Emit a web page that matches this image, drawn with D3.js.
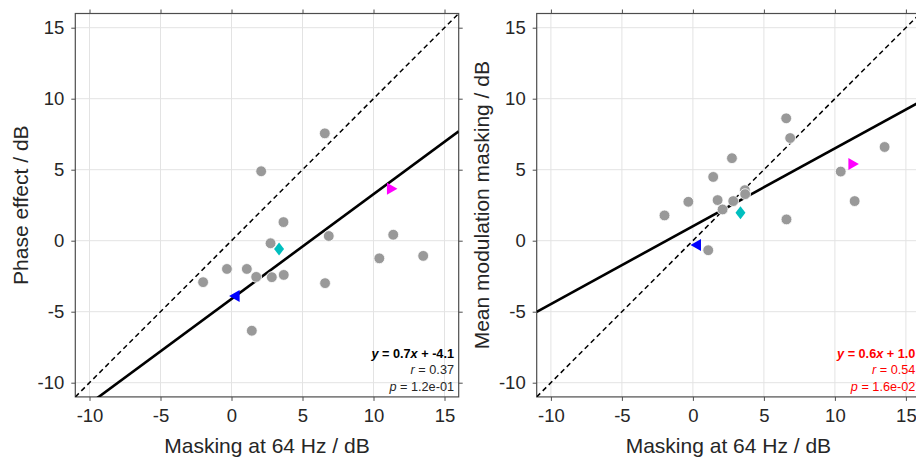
<!DOCTYPE html>
<html>
<head>
<meta charset="utf-8">
<script src="https://cdn.jsdelivr.net/npm/d3@7"></script>
<style>
html,body{margin:0;padding:0;background:#fff;overflow:hidden;}
svg{display:block;font-family:"Liberation Sans",Arial,sans-serif;}
</style>
</head>
<body>
<svg id="chart" width="916" height="458"></svg>
<script>
// ---- data ----
const maskingX = [-2.0, -0.32, 1.08, 1.43, 1.74, 2.09, 2.75, 2.84, 3.66, 3.68, 6.57, 6.59, 6.85, 10.41, 11.39, 13.5];
const phaseEffectY = [-2.92, -1.99, -1.99, -6.34, -2.55, 4.89, -0.18, -2.57, 1.31, -2.41, 7.56, -2.99, 0.33, -1.24, 0.42, -1.07];
const modMaskingY = [1.78, 2.74, -0.67, 4.49, 2.86, 2.2, 5.81, 2.79, 3.56, 3.28, 8.62, 1.5, 7.23, 4.87, 2.79, 6.6];
const specialNames = ["blue", "cyan", "magenta"];
const specialX = [0.22, 3.35, 11.3];
const specialPhaseY = [-3.9, -0.58, 3.65];
const specialModY = [-0.3, 1.97, 5.41];
const fitSlope = [0.738, 0.548];
const fitIntercept = [-4.1, 1.02];
const fitText = ["0.7", "0.6"];
const fitIntText = ["-4.1", "1.0"];
const rText = ["0.37", "0.54"];
const pText = ["1.2e-01", "1.6e-02"];
const yLabels = ["Phase effect / dB", "Mean modulation masking / dB"];
const xLabel = "Masking at 64 Hz / dB";
const tickValues = [-10, -5, 0, 5, 10, 15];
const tickLabels = ["-10", "-5", "0", "5", "10", "15"];
const domain = [-11, 16];

// ---- layout ----
const svg = d3.select("#chart");
const panels = [
  {x0: 75.3, ys: phaseEffectY, sy: specialPhaseY, textColor: "#000000", ylabX: 27.5},
  {x0: 536.7, ys: modMaskingY, sy: specialModY, textColor: "#ff0000", ylabX: 489}
];
const size = 383.4, plotTop = 13.5;
const specialColor = {blue: "#0000ff", cyan: "#00bfbf", magenta: "#ff00ff"};
const fmt = d => tickLabels[tickValues.indexOf(d)];

panels.forEach((p, i) => {
  const x = d3.scaleLinear().domain(domain).range([p.x0, p.x0 + size]);
  const y = d3.scaleLinear().domain(domain).range([plotTop + size, plotTop]);
  const g = svg.append("g");
  const clipId = "clip" + i;
  svg.append("clipPath").attr("id", clipId).append("rect")
    .attr("x", p.x0).attr("y", plotTop).attr("width", size).attr("height", size);

  // grid
  g.append("g").selectAll("line").data(tickValues).join("line")
    .attr("x1", d => x(d)).attr("x2", d => x(d)).attr("y1", plotTop).attr("y2", plotTop + size)
    .attr("stroke", "#e3e3e3").attr("stroke-width", 1);
  g.append("g").selectAll("line").data(tickValues).join("line")
    .attr("x1", p.x0).attr("x2", p.x0 + size).attr("y1", d => y(d)).attr("y2", d => y(d))
    .attr("stroke", "#e3e3e3").attr("stroke-width", 1);

  // axes
  const axColor = "#4d4d4d";
  const styleAxis = (sel, showText) => {
    sel.select(".domain").remove();
    sel.selectAll(".tick line").attr("stroke", axColor);
    sel.selectAll(".tick text").attr("fill", "#262626").style("font-size", "18.5px")
      .style("font-family", "'Liberation Sans',Arial,sans-serif")
      .style("display", showText ? null : "none");
  };
  g.append("g").attr("transform", `translate(0,${plotTop + size})`)
    .call(d3.axisBottom(x).tickValues(tickValues).tickFormat(fmt).tickSize(4).tickPadding(8))
    .call(s => styleAxis(s, true));
  g.append("g").attr("transform", `translate(0,${plotTop})`)
    .call(d3.axisTop(x).tickValues(tickValues).tickFormat(fmt).tickSize(4))
    .call(s => styleAxis(s, false));
  g.append("g").attr("transform", `translate(${p.x0},0)`)
    .call(d3.axisLeft(y).tickValues(tickValues).tickFormat(fmt).tickSize(4).tickPadding(7))
    .call(s => styleAxis(s, true));
  g.append("g").attr("transform", `translate(${p.x0 + size},0)`)
    .call(d3.axisRight(y).tickValues(tickValues).tickFormat(fmt).tickSize(4))
    .call(s => styleAxis(s, false));
  g.append("rect").attr("x", p.x0).attr("y", plotTop).attr("width", size).attr("height", size)
    .attr("fill", "none").attr("stroke", axColor).attr("stroke-width", 1.2);

  // lines
  const lines = g.append("g").attr("clip-path", `url(#${clipId})`);
  lines.append("line")
    .attr("x1", x(domain[0])).attr("y1", y(domain[0])).attr("x2", x(domain[1])).attr("y2", y(domain[1]))
    .attr("stroke", "#000").attr("stroke-width", 1.5).attr("stroke-dasharray", "5,3.5");
  lines.append("line")
    .attr("x1", x(domain[0])).attr("y1", y(fitSlope[i] * domain[0] + fitIntercept[i]))
    .attr("x2", x(domain[1])).attr("y2", y(fitSlope[i] * domain[1] + fitIntercept[i]))
    .attr("stroke", "#000").attr("stroke-width", 2.6);

  // points
  g.append("g").selectAll("circle").data(maskingX.map((d, k) => [d, p.ys[k]])).join("circle")
    .attr("cx", d => x(d[0])).attr("cy", d => y(d[1])).attr("r", 5.4)
    .attr("fill", "#999999").attr("stroke", "#ffffff").attr("stroke-width", 0.8);

  // special markers
  const sm = g.append("g");
  specialNames.forEach((n, k) => {
    const cx = x(specialX[k]), cy = y(p.sy[k]);
    let path;
    if (n === "blue") path = `M${cx - 5.5},${cy} L${cx + 5},${cy - 6} L${cx + 5},${cy + 6} Z`;
    else if (n === "magenta") path = `M${cx + 5.5},${cy} L${cx - 5},${cy - 6} L${cx - 5},${cy + 6} Z`;
    else path = `M${cx},${cy - 6.5} L${cx + 5},${cy} L${cx},${cy + 6.5} L${cx - 5},${cy} Z`;
    sm.append("path").attr("d", path).attr("fill", specialColor[n]);
  });

  // annotation
  const tx = p.x0 + size - 4.7;
  const subColor = p.textColor === "#000000" ? "#262626" : p.textColor;
  const t1 = g.append("text").attr("x", tx).attr("y", 357.5).attr("text-anchor", "end")
    .attr("fill", p.textColor).style("font-size", "12.7px").style("font-weight", "bold");
  t1.append("tspan").style("font-style", "italic").text("y");
  t1.append("tspan").text(` = ${fitText[i]}`);
  t1.append("tspan").style("font-style", "italic").text("x");
  t1.append("tspan").text(` + ${fitIntText[i]}`);
  const t2 = g.append("text").attr("x", tx).attr("y", 374.3).attr("text-anchor", "end")
    .attr("fill", subColor).style("font-size", "12.7px");
  t2.append("tspan").style("font-style", "italic").text("r");
  t2.append("tspan").text(` = ${rText[i]}`);
  const t3 = g.append("text").attr("x", tx).attr("y", 390.5).attr("text-anchor", "end")
    .attr("fill", subColor).style("font-size", "12.7px");
  t3.append("tspan").style("font-style", "italic").text("p");
  t3.append("tspan").text(` = ${pText[i]}`);

  // axis labels
  g.append("text").attr("x", p.x0 + size / 2).attr("y", 452.5).attr("text-anchor", "middle")
    .attr("fill", "#262626").style("font-size", "21px").text(xLabel);
  g.append("text").attr("transform", `translate(${p.ylabX},${plotTop + size / 2}) rotate(-90)`)
    .attr("text-anchor", "middle").attr("fill", "#262626").style("font-size", "21px").text(yLabels[i]);
});
</script>
</body>
</html>
